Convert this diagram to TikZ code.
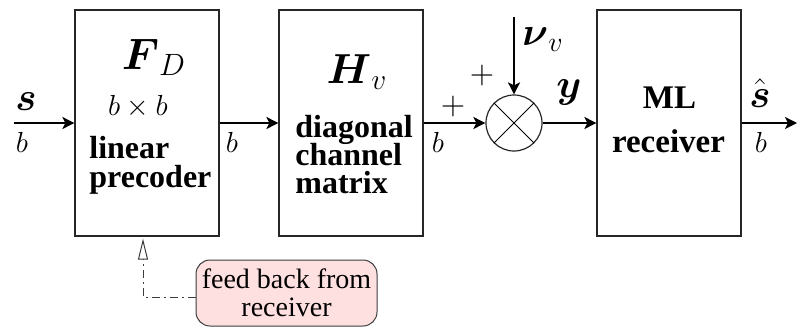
\RequirePackage{fix-cm}
\documentclass[tikz,border=0pt]{standalone}
\usepackage{amsmath}
\usepackage{fontspec}
\setmainfont{Liberation Serif}
\usetikzlibrary{arrows.meta}
\definecolor{fbpink}{RGB}{255,224,224}
\definecolor{fbgray}{RGB}{60,60,60}
\begin{document}
\begin{tikzpicture}[x=0.5pt,y=-0.5pt,
  blk/.style={draw=black!85, line width=0.6pt, minimum width=72pt, minimum height=113pt, inner sep=0pt},
  arr/.style={line width=1pt, -{Stealth[length=6pt,width=6pt,inset=1.5pt]}},
  lbl/.style={inner sep=0pt, anchor=base},
  blab/.style={lbl, font=\fontsize{14.5}{17}\selectfont},
  vlab/.style={lbl, font=\fontsize{20}{24}\selectfont},
  plus/.style={lbl, font=\fontsize{16}{19}\selectfont},
  btxt/.style={inner sep=0pt, anchor=base west, font=\fontsize{16}{19}\selectfont\bfseries},
  ctxt/.style={inner sep=0pt, anchor=base, font=\fontsize{16.5}{19}\selectfont\bfseries},
  fbbox/.style={draw=fbgray, fill=fbpink, line width=0.5pt, rounded corners=7pt, minimum width=90.5pt, minimum height=33pt, inner sep=0pt, align=center, font=\fontsize{14}{14}\selectfont},
  fbline/.style={draw=fbgray, line width=0.5pt, dash pattern=on 4pt off 2pt on 1pt off 2pt, -{Triangle[open, length=10.5pt, width=5pt, fill=white]}}
]
\path[use as bounding box] (0,0) rectangle (797,327);

% blocks
\node[blk] (prec) at (147,123) {};
\node[blk] (chan) at (351,123) {};
\node[blk] (recv) at (669,123) {};
\node[draw=black!85, line width=0.6pt, circle, minimum size=28pt, inner sep=0pt] (mix) at (514,123) {};
\draw[line width=0.5pt] (mix.north west) -- (mix.south east);
\draw[line width=0.5pt] (mix.north east) -- (mix.south west);

% block contents
\node[lbl, font=\fontsize{22}{26}\selectfont] (fd) at (154,69) {$\boldsymbol{F}_D$};
\node[lbl, font=\fontsize{14.5}{17}\selectfont] (bxb) at (138,115) {$b\times b$};
\node[btxt] (t1) at (89,158) {linear};
\node[btxt] (t2) at (89,187) {precoder};
\node[lbl, font=\fontsize{21}{25}\selectfont] (hv) at (357,83) {$\boldsymbol{H}_v$};
\node[btxt] (t3) at (295,137) {diagonal};
\node[btxt] (t4) at (295,165) {channel};
\node[btxt] (t5) at (295,193) {matrix};
\node[ctxt] (t6) at (669.5,108) {ML};
\node[ctxt] (t7) at (668.5,152) {receiver};

% connectors
\coordinate (src) at (14,123);
\coordinate (sink) at (797,123);
\coordinate (noise) at (514,17);
\draw[arr] (src) -- (prec.west);
\draw[arr] (prec.east) -- (chan.west);
\draw[arr] (chan.east) -- (mix.west);
\draw[arr] (noise) -- (mix.north);
\draw[arr] (mix.east) -- (recv.west);
\draw[arr] (recv.east) -- (sink);

% connector labels
\node[vlab] (ls) at (26,110) {$\boldsymbol{s}$};
\node[blab] (lb1) at (22,152) {$b$};
\node[blab] (lb2) at (232,152) {$b$};
\node[blab] (lb3) at (438,152) {$b$};
\node[plus] (lp1) at (453,114) {$+$};
\node[plus] (lp2) at (482,83) {$+$};
\node[lbl, font=\fontsize{20}{24}\selectfont] (lnu) at (543,45) {$\boldsymbol{\nu}_v$};
\node[vlab] (ly) at (569,97) {$\boldsymbol{y}$};
\node[vlab] (lsh) at (760,107) {$\hat{\boldsymbol{s}}$};
\node[blab] (lb4) at (761,152) {$b$};

% feedback
\node[fbbox] (fb) at (286.5,293) {feed back from\\receiver};
\draw[fbline] ([yshift=-2pt]fb.west) -| ([xshift=-2pt,yshift=-1pt]prec.south);
\end{tikzpicture}
\end{document}
